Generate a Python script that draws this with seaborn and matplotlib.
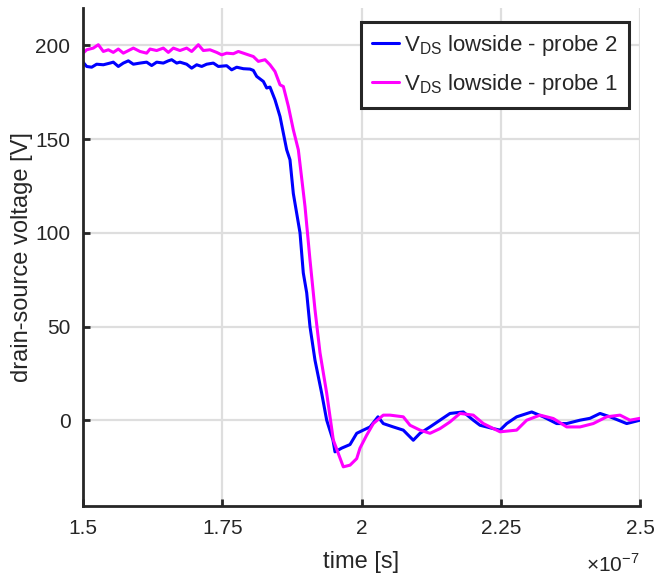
import numpy as np
import pandas as pd
import seaborn as sns
import matplotlib
matplotlib.use("Agg")
import matplotlib.pyplot as plt

# ---- data (time in units of 1e-7 s, voltage in V) ----
t_probe2 = [1.5000, 1.5066, 1.5156, 1.5245, 1.5365, 1.5485, 1.5544, 1.5634, 1.5724,
            1.5814, 1.5904, 1.6023, 1.6143, 1.6233, 1.6323, 1.6442, 1.6532, 1.6592,
            1.6682, 1.6741, 1.6861, 1.6951, 1.7041, 1.7131, 1.7220, 1.7340, 1.7430,
            1.7579, 1.7669, 1.7759, 1.7879, 1.7998, 1.8058, 1.8118, 1.8238, 1.8298,
            1.8357, 1.8447, 1.8537, 1.8657, 1.8716, 1.8776, 1.8896, 1.8955, 1.9016,
            1.9075, 1.9165, 1.9285, 1.9375, 1.9488, 1.9524, 1.9645, 1.9794, 1.9914,
            2.0032, 2.0153, 2.0296, 2.0391, 2.0571, 2.0750, 2.0930, 2.1050, 2.1230,
            2.1409, 2.1589, 2.1828, 2.2007, 2.2127, 2.2366, 2.2487, 2.2607, 2.2786,
            2.3056, 2.3264, 2.3504, 2.3684, 2.3923, 2.4102, 2.4282, 2.4461, 2.4761,
            2.5000]
v_probe2 = [191.1, 188.8, 188.4, 190.0, 189.7, 190.6, 191.1, 188.8, 190.6,
            191.8, 190.0, 190.6, 191.1, 189.3, 191.1, 190.6, 191.8, 192.4,
            190.6, 191.1, 190.0, 187.9, 189.7, 188.8, 190.0, 190.6, 188.8,
            189.2, 187.0, 188.4, 187.6, 187.4, 186.7, 183.5, 180.8, 177.3,
            177.8, 171.0, 162.1, 144.3, 139.0, 121.0, 100.0, 78.6, 68.0,
            50.0, 32.0, 14.4, 0.0, -10.6, -16.9, -14.9, -13.0, -7.0,
            -5.3, -3.6, 1.8, -1.8, -3.6, -5.3, -10.7, -7.0, -3.6,
            0.0, 3.6, 4.4, 0.0, -2.7, -4.5, -5.3, -1.8, 1.8,
            4.4, 1.8, -1.8, -1.8, 0.0, 1.0, 3.6, 1.8, -1.8,
            0.0]

t_probe1 = [1.5000, 1.5066, 1.5185, 1.5275, 1.5365, 1.5455, 1.5544, 1.5634, 1.5724,
            1.5844, 1.5904, 1.6023, 1.6143, 1.6203, 1.6323, 1.6442, 1.6532, 1.6622,
            1.6741, 1.6861, 1.6951, 1.7071, 1.7160, 1.7280, 1.7400, 1.7490, 1.7579,
            1.7699, 1.7789, 1.7879, 1.7968, 1.8058, 1.8148, 1.8268, 1.8357, 1.8447,
            1.8537, 1.8597, 1.8687, 1.8776, 1.8866, 1.8986, 1.9075, 1.9165, 1.9255,
            1.9375, 1.9494, 1.9673, 1.9794, 1.9914, 1.9973, 2.0093, 2.0212, 2.0391,
            2.0512, 2.0750, 2.0871, 2.1050, 2.1230, 2.1409, 2.1589, 2.1768, 2.2007,
            2.2187, 2.2487, 2.2786, 2.2966, 2.3205, 2.3444, 2.3684, 2.3923, 2.4161,
            2.4402, 2.4641, 2.4820, 2.5000]
v_probe1 = [195.9, 197.7, 198.6, 200.4, 196.8, 197.7, 196.3, 198.1, 195.9,
            197.7, 198.6, 196.8, 195.9, 198.1, 197.3, 198.6, 196.3, 198.6,
            197.3, 198.6, 196.8, 200.4, 197.3, 197.7, 196.3, 195.0, 195.9,
            195.6, 196.8, 195.9, 195.0, 194.1, 191.5, 192.4, 189.7, 186.1,
            179.0, 178.1, 167.5, 155.0, 144.3, 114.0, 85.6, 59.0, 36.0,
            14.4, -10.6, -24.9, -24.0, -20.5, -14.9, -8.0, -1.8, 2.7,
            2.7, 1.8, -2.7, -5.3, -7.0, -4.5, -0.9, 3.6, 2.7,
            -1.8, -6.2, -5.3, 0.0, 2.7, 0.9, -3.6, -3.6, -1.8,
            1.8, 2.7, 0.0, 1.0]

label_probe2 = "V$_{\\mathregular{DS}}$ lowside - probe 2"
label_probe1 = "V$_{\\mathregular{DS}}$ lowside - probe 1"
x_ticks = [1.5, 1.75, 2.0, 2.25, 2.5]
x_ticklabels = ["1.5", "1.75", "2", "2.25", "2.5"]
y_ticks = [0, 50, 100, 150, 200]

# ---- style ----
sns.set_style("white")
plt.rcParams["font.family"] = ["Liberation Sans", "DejaVu Sans"]
plt.rcParams["mathtext.fontset"] = "custom"
plt.rcParams["mathtext.rm"] = "Liberation Sans"

DARK = "#262626"

fig = plt.figure(figsize=(6.56, 5.75), dpi=100)
ax = fig.add_axes([83 / 656, 1 - 506 / 575, (640 - 83) / 656, (506 - 8) / 575])

df2 = pd.DataFrame({"t": t_probe2, "v": v_probe2})
df1 = pd.DataFrame({"t": t_probe1, "v": v_probe1})
sns.lineplot(data=df2, x="t", y="v", ax=ax, color="#0000FF", lw=2.2,
             label=label_probe2, sort=False)
sns.lineplot(data=df1, x="t", y="v", ax=ax, color="#FF00FF", lw=2.2,
             label=label_probe1, sort=False)

ax.set_xlim(1.5, 2.5)
ax.set_ylim(-45.8, 220)
ax.set_xticks(x_ticks)
ax.set_xticklabels(x_ticklabels)
ax.set_yticks(y_ticks)
ax.grid(True, color="#dedede", lw=1.6)
ax.set_axisbelow(True)

for s in ["top", "right"]:
    ax.spines[s].set_visible(False)
for s in ["left", "bottom"]:
    ax.spines[s].set_color(DARK)
    ax.spines[s].set_linewidth(2.0)

ax.tick_params(axis="both", which="major", direction="in", length=5, width=2.0,
               color=DARK, labelsize=15, labelcolor=DARK, pad=9,
               bottom=True, left=True, top=False, right=False)
ax.set_xlabel("time [s]", fontsize=17, color=DARK, labelpad=9.5)
ax.set_ylabel("drain-source voltage [V]", fontsize=17, color=DARK, labelpad=1.5)

fig.text(640 / 656, 1 - 572 / 575, "×10$^{\\mathregular{-7}}$", ha="right", va="baseline",
         fontsize=15, color=DARK)

leg = ax.legend(loc="upper right", bbox_to_anchor=((629 - 83) / 557, (506 - 22) / 498),
                borderaxespad=0, frameon=True, fancybox=False, fontsize=16,
                handlelength=1.2, handletextpad=0.25, labelspacing=0.63,
                borderpad=0.49)
frame = leg.get_frame()
frame.set_edgecolor(DARK)
frame.set_linewidth(2.2)
frame.set_facecolor("white")
frame.set_alpha(1)

fig.savefig("out.png", dpi=100)
